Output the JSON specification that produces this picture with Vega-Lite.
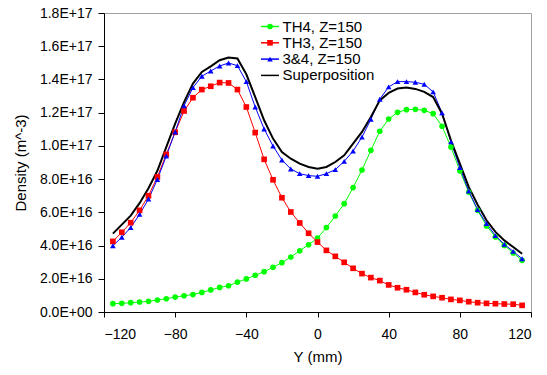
{
  "$schema": "https://vega.github.io/schema/vega-lite/v6.json",
  "width": 427,
  "height": 299,
  "autosize": {"type": "none"},
  "padding": {"left": 104, "top": 13, "right": 16, "bottom": 63},
  "background": "white",
  "config": {
    "font": "Liberation Sans",
    "view": {"stroke": "#a0a0a0", "strokeWidth": 1},
    "axis": {
      "grid": false,
      "domainColor": "black",
      "tickColor": "black",
      "labelColor": "black",
      "titleColor": "black",
      "labelFont": "Liberation Sans",
      "titleFont": "Liberation Sans",
      "labelFontSize": 14,
      "titleFontSize": 15,
      "titleFontWeight": "normal",
      "domainWidth": 1,
      "tickWidth": 1
    }
  },
  "data": {
    "values": [
      {"series": "TH4, Z=150", "y_mm": -115, "density": 0.50e16},
      {"series": "TH4, Z=150", "y_mm": -110, "density": 0.52e16},
      {"series": "TH4, Z=150", "y_mm": -105, "density": 0.56e16},
      {"series": "TH4, Z=150", "y_mm": -100, "density": 0.60e16},
      {"series": "TH4, Z=150", "y_mm": -95, "density": 0.64e16},
      {"series": "TH4, Z=150", "y_mm": -90, "density": 0.72e16},
      {"series": "TH4, Z=150", "y_mm": -85, "density": 0.80e16},
      {"series": "TH4, Z=150", "y_mm": -80, "density": 0.90e16},
      {"series": "TH4, Z=150", "y_mm": -75, "density": 0.98e16},
      {"series": "TH4, Z=150", "y_mm": -70, "density": 1.05e16},
      {"series": "TH4, Z=150", "y_mm": -65, "density": 1.18e16},
      {"series": "TH4, Z=150", "y_mm": -60, "density": 1.33e16},
      {"series": "TH4, Z=150", "y_mm": -55, "density": 1.48e16},
      {"series": "TH4, Z=150", "y_mm": -50, "density": 1.58e16},
      {"series": "TH4, Z=150", "y_mm": -45, "density": 1.80e16},
      {"series": "TH4, Z=150", "y_mm": -40, "density": 1.99e16},
      {"series": "TH4, Z=150", "y_mm": -35, "density": 2.21e16},
      {"series": "TH4, Z=150", "y_mm": -30, "density": 2.43e16},
      {"series": "TH4, Z=150", "y_mm": -25, "density": 2.69e16},
      {"series": "TH4, Z=150", "y_mm": -20, "density": 2.97e16},
      {"series": "TH4, Z=150", "y_mm": -15, "density": 3.31e16},
      {"series": "TH4, Z=150", "y_mm": -10, "density": 3.69e16},
      {"series": "TH4, Z=150", "y_mm": -5, "density": 4.05e16},
      {"series": "TH4, Z=150", "y_mm": 0, "density": 4.45e16},
      {"series": "TH4, Z=150", "y_mm": 5, "density": 5.08e16},
      {"series": "TH4, Z=150", "y_mm": 10, "density": 5.78e16},
      {"series": "TH4, Z=150", "y_mm": 15, "density": 6.52e16},
      {"series": "TH4, Z=150", "y_mm": 20, "density": 7.49e16},
      {"series": "TH4, Z=150", "y_mm": 25, "density": 8.55e16},
      {"series": "TH4, Z=150", "y_mm": 30, "density": 9.73e16},
      {"series": "TH4, Z=150", "y_mm": 35, "density": 10.88e16},
      {"series": "TH4, Z=150", "y_mm": 40, "density": 11.62e16},
      {"series": "TH4, Z=150", "y_mm": 45, "density": 12.02e16},
      {"series": "TH4, Z=150", "y_mm": 50, "density": 12.18e16},
      {"series": "TH4, Z=150", "y_mm": 55, "density": 12.20e16},
      {"series": "TH4, Z=150", "y_mm": 60, "density": 12.14e16},
      {"series": "TH4, Z=150", "y_mm": 65, "density": 11.94e16},
      {"series": "TH4, Z=150", "y_mm": 70, "density": 11.18e16},
      {"series": "TH4, Z=150", "y_mm": 75, "density": 9.93e16},
      {"series": "TH4, Z=150", "y_mm": 80, "density": 8.50e16},
      {"series": "TH4, Z=150", "y_mm": 85, "density": 7.22e16},
      {"series": "TH4, Z=150", "y_mm": 90, "density": 6.12e16},
      {"series": "TH4, Z=150", "y_mm": 95, "density": 5.18e16},
      {"series": "TH4, Z=150", "y_mm": 100, "density": 4.52e16},
      {"series": "TH4, Z=150", "y_mm": 105, "density": 4.01e16},
      {"series": "TH4, Z=150", "y_mm": 110, "density": 3.55e16},
      {"series": "TH4, Z=150", "y_mm": 115, "density": 3.11e16},

      {"series": "TH3, Z=150", "y_mm": -115, "density": 4.25e16},
      {"series": "TH3, Z=150", "y_mm": -110, "density": 4.80e16},
      {"series": "TH3, Z=150", "y_mm": -105, "density": 5.38e16},
      {"series": "TH3, Z=150", "y_mm": -100, "density": 6.12e16},
      {"series": "TH3, Z=150", "y_mm": -95, "density": 7.00e16},
      {"series": "TH3, Z=150", "y_mm": -90, "density": 8.13e16},
      {"series": "TH3, Z=150", "y_mm": -85, "density": 9.49e16},
      {"series": "TH3, Z=150", "y_mm": -80, "density": 10.82e16},
      {"series": "TH3, Z=150", "y_mm": -75, "density": 12.10e16},
      {"series": "TH3, Z=150", "y_mm": -70, "density": 12.90e16},
      {"series": "TH3, Z=150", "y_mm": -65, "density": 13.39e16},
      {"series": "TH3, Z=150", "y_mm": -60, "density": 13.59e16},
      {"series": "TH3, Z=150", "y_mm": -55, "density": 13.81e16},
      {"series": "TH3, Z=150", "y_mm": -50, "density": 13.79e16},
      {"series": "TH3, Z=150", "y_mm": -45, "density": 13.39e16},
      {"series": "TH3, Z=150", "y_mm": -40, "density": 12.34e16},
      {"series": "TH3, Z=150", "y_mm": -35, "density": 10.80e16},
      {"series": "TH3, Z=150", "y_mm": -30, "density": 9.19e16},
      {"series": "TH3, Z=150", "y_mm": -25, "density": 7.96e16},
      {"series": "TH3, Z=150", "y_mm": -20, "density": 6.88e16},
      {"series": "TH3, Z=150", "y_mm": -15, "density": 6.02e16},
      {"series": "TH3, Z=150", "y_mm": -10, "density": 5.36e16},
      {"series": "TH3, Z=150", "y_mm": -5, "density": 4.74e16},
      {"series": "TH3, Z=150", "y_mm": 0, "density": 4.21e16},
      {"series": "TH3, Z=150", "y_mm": 5, "density": 3.71e16},
      {"series": "TH3, Z=150", "y_mm": 10, "density": 3.35e16},
      {"series": "TH3, Z=150", "y_mm": 15, "density": 2.99e16},
      {"series": "TH3, Z=150", "y_mm": 20, "density": 2.63e16},
      {"series": "TH3, Z=150", "y_mm": 25, "density": 2.31e16},
      {"series": "TH3, Z=150", "y_mm": 30, "density": 2.07e16},
      {"series": "TH3, Z=150", "y_mm": 35, "density": 1.89e16},
      {"series": "TH3, Z=150", "y_mm": 40, "density": 1.63e16},
      {"series": "TH3, Z=150", "y_mm": 45, "density": 1.46e16},
      {"series": "TH3, Z=150", "y_mm": 50, "density": 1.34e16},
      {"series": "TH3, Z=150", "y_mm": 55, "density": 1.18e16},
      {"series": "TH3, Z=150", "y_mm": 60, "density": 1.04e16},
      {"series": "TH3, Z=150", "y_mm": 65, "density": 0.94e16},
      {"series": "TH3, Z=150", "y_mm": 70, "density": 0.86e16},
      {"series": "TH3, Z=150", "y_mm": 75, "density": 0.76e16},
      {"series": "TH3, Z=150", "y_mm": 80, "density": 0.70e16},
      {"series": "TH3, Z=150", "y_mm": 85, "density": 0.62e16},
      {"series": "TH3, Z=150", "y_mm": 90, "density": 0.56e16},
      {"series": "TH3, Z=150", "y_mm": 95, "density": 0.52e16},
      {"series": "TH3, Z=150", "y_mm": 100, "density": 0.50e16},
      {"series": "TH3, Z=150", "y_mm": 105, "density": 0.48e16},
      {"series": "TH3, Z=150", "y_mm": 110, "density": 0.47e16},
      {"series": "TH3, Z=150", "y_mm": 115, "density": 0.40e16},

      {"series": "3&4, Z=150", "y_mm": -115, "density": 3.99e16},
      {"series": "3&4, Z=150", "y_mm": -110, "density": 4.50e16},
      {"series": "3&4, Z=150", "y_mm": -105, "density": 5.08e16},
      {"series": "3&4, Z=150", "y_mm": -100, "density": 5.88e16},
      {"series": "3&4, Z=150", "y_mm": -95, "density": 6.80e16},
      {"series": "3&4, Z=150", "y_mm": -90, "density": 7.98e16},
      {"series": "3&4, Z=150", "y_mm": -85, "density": 9.39e16},
      {"series": "3&4, Z=150", "y_mm": -80, "density": 10.84e16},
      {"series": "3&4, Z=150", "y_mm": -75, "density": 12.42e16},
      {"series": "3&4, Z=150", "y_mm": -70, "density": 13.51e16},
      {"series": "3&4, Z=150", "y_mm": -65, "density": 14.19e16},
      {"series": "3&4, Z=150", "y_mm": -60, "density": 14.51e16},
      {"series": "3&4, Z=150", "y_mm": -55, "density": 14.81e16},
      {"series": "3&4, Z=150", "y_mm": -50, "density": 14.99e16},
      {"series": "3&4, Z=150", "y_mm": -45, "density": 14.83e16},
      {"series": "3&4, Z=150", "y_mm": -40, "density": 13.87e16},
      {"series": "3&4, Z=150", "y_mm": -35, "density": 12.34e16},
      {"series": "3&4, Z=150", "y_mm": -30, "density": 11.02e16},
      {"series": "3&4, Z=150", "y_mm": -25, "density": 9.99e16},
      {"series": "3&4, Z=150", "y_mm": -20, "density": 9.15e16},
      {"series": "3&4, Z=150", "y_mm": -15, "density": 8.61e16},
      {"series": "3&4, Z=150", "y_mm": -10, "density": 8.33e16},
      {"series": "3&4, Z=150", "y_mm": -5, "density": 8.21e16},
      {"series": "3&4, Z=150", "y_mm": 0, "density": 8.17e16},
      {"series": "3&4, Z=150", "y_mm": 5, "density": 8.33e16},
      {"series": "3&4, Z=150", "y_mm": 10, "density": 8.57e16},
      {"series": "3&4, Z=150", "y_mm": 15, "density": 9.07e16},
      {"series": "3&4, Z=150", "y_mm": 20, "density": 9.69e16},
      {"series": "3&4, Z=150", "y_mm": 25, "density": 10.53e16},
      {"series": "3&4, Z=150", "y_mm": 30, "density": 11.60e16},
      {"series": "3&4, Z=150", "y_mm": 35, "density": 12.81e16},
      {"series": "3&4, Z=150", "y_mm": 40, "density": 13.55e16},
      {"series": "3&4, Z=150", "y_mm": 45, "density": 13.87e16},
      {"series": "3&4, Z=150", "y_mm": 50, "density": 13.87e16},
      {"series": "3&4, Z=150", "y_mm": 55, "density": 13.83e16},
      {"series": "3&4, Z=150", "y_mm": 60, "density": 13.71e16},
      {"series": "3&4, Z=150", "y_mm": 65, "density": 13.25e16},
      {"series": "3&4, Z=150", "y_mm": 70, "density": 11.99e16},
      {"series": "3&4, Z=150", "y_mm": 75, "density": 10.24e16},
      {"series": "3&4, Z=150", "y_mm": 80, "density": 8.69e16},
      {"series": "3&4, Z=150", "y_mm": 85, "density": 7.28e16},
      {"series": "3&4, Z=150", "y_mm": 90, "density": 6.16e16},
      {"series": "3&4, Z=150", "y_mm": 95, "density": 5.32e16},
      {"series": "3&4, Z=150", "y_mm": 100, "density": 4.60e16},
      {"series": "3&4, Z=150", "y_mm": 105, "density": 4.07e16},
      {"series": "3&4, Z=150", "y_mm": 110, "density": 3.65e16},
      {"series": "3&4, Z=150", "y_mm": 115, "density": 3.21e16},

      {"series": "Superposition", "y_mm": -115, "density": 4.72e16},
      {"series": "Superposition", "y_mm": -110, "density": 5.26e16},
      {"series": "Superposition", "y_mm": -105, "density": 5.80e16},
      {"series": "Superposition", "y_mm": -100, "density": 6.55e16},
      {"series": "Superposition", "y_mm": -95, "density": 7.45e16},
      {"series": "Superposition", "y_mm": -90, "density": 8.50e16},
      {"series": "Superposition", "y_mm": -85, "density": 9.93e16},
      {"series": "Superposition", "y_mm": -80, "density": 11.34e16},
      {"series": "Superposition", "y_mm": -75, "density": 12.64e16},
      {"series": "Superposition", "y_mm": -70, "density": 13.75e16},
      {"series": "Superposition", "y_mm": -65, "density": 14.45e16},
      {"series": "Superposition", "y_mm": -60, "density": 14.79e16},
      {"series": "Superposition", "y_mm": -55, "density": 15.16e16},
      {"series": "Superposition", "y_mm": -50, "density": 15.32e16},
      {"series": "Superposition", "y_mm": -45, "density": 15.26e16},
      {"series": "Superposition", "y_mm": -40, "density": 14.31e16},
      {"series": "Superposition", "y_mm": -35, "density": 12.94e16},
      {"series": "Superposition", "y_mm": -30, "density": 11.54e16},
      {"series": "Superposition", "y_mm": -25, "density": 10.44e16},
      {"series": "Superposition", "y_mm": -20, "density": 9.63e16},
      {"series": "Superposition", "y_mm": -15, "density": 9.23e16},
      {"series": "Superposition", "y_mm": -10, "density": 8.93e16},
      {"series": "Superposition", "y_mm": -5, "density": 8.73e16},
      {"series": "Superposition", "y_mm": 0, "density": 8.63e16},
      {"series": "Superposition", "y_mm": 5, "density": 8.73e16},
      {"series": "Superposition", "y_mm": 10, "density": 9.03e16},
      {"series": "Superposition", "y_mm": 15, "density": 9.43e16},
      {"series": "Superposition", "y_mm": 20, "density": 10.14e16},
      {"series": "Superposition", "y_mm": 25, "density": 10.84e16},
      {"series": "Superposition", "y_mm": 30, "density": 11.74e16},
      {"series": "Superposition", "y_mm": 35, "density": 12.74e16},
      {"series": "Superposition", "y_mm": 40, "density": 13.19e16},
      {"series": "Superposition", "y_mm": 45, "density": 13.45e16},
      {"series": "Superposition", "y_mm": 50, "density": 13.51e16},
      {"series": "Superposition", "y_mm": 55, "density": 13.43e16},
      {"series": "Superposition", "y_mm": 60, "density": 13.25e16},
      {"series": "Superposition", "y_mm": 65, "density": 12.94e16},
      {"series": "Superposition", "y_mm": 70, "density": 11.94e16},
      {"series": "Superposition", "y_mm": 75, "density": 10.34e16},
      {"series": "Superposition", "y_mm": 80, "density": 8.93e16},
      {"series": "Superposition", "y_mm": 85, "density": 7.53e16},
      {"series": "Superposition", "y_mm": 90, "density": 6.46e16},
      {"series": "Superposition", "y_mm": 95, "density": 5.52e16},
      {"series": "Superposition", "y_mm": 100, "density": 4.82e16},
      {"series": "Superposition", "y_mm": 105, "density": 4.31e16},
      {"series": "Superposition", "y_mm": 110, "density": 3.91e16},
      {"series": "Superposition", "y_mm": 115, "density": 3.51e16}
    ]
  },
  "encoding": {
    "x": {
      "field": "y_mm",
      "type": "quantitative",
      "scale": {"domain": [-120, 120], "nice": false, "zero": false},
      "axis": {
        "values": [-120, -80, -40, 0, 40, 80, 120],
        "title": "Y (mm)",
        "tickSize": 5,
        "labelPadding": 10,
        "titlePadding": 8
      }
    },
    "y": {
      "field": "density",
      "type": "quantitative",
      "scale": {"domain": [0, 1.8e17], "nice": false},
      "axis": {
        "values": [0, 2e16, 4e16, 6e16, 8e16, 1e17, 1.2e17, 1.4e17, 1.6e17, 1.8e17],
        "labelExpr": "datum.value === 0 ? '0.0E+00' : replace(format(datum.value, '.1e'), 'e', 'E')",
        "title": "Density (m^-3)",
        "tickSize": 6,
        "labelPadding": 6,
        "titlePadding": 11
      }
    },
    "stroke": {
      "field": "series",
      "type": "nominal",
      "sort": ["TH4, Z=150", "TH3, Z=150", "3&4, Z=150", "Superposition"],
      "scale": {"range": ["#00ff00", "#ff0000", "#0000ff", "#000000"]},
      "legend": {
        "orient": "none",
        "legendX": 158.5,
        "legendY": 6,
        "title": null,
        "padding": 0,
        "rowPadding": 0.3,
        "symbolType": "M-3,0H3",
        "symbolSize": 36,
        "symbolStrokeWidth": 1.5,
        "labelFontSize": 15,
        "labelFont": "Liberation Sans",
        "labelColor": "black",
        "labelOffset": 5
      }
    }
  },
  "layer": [
    {
      "transform": [{"filter": "datum.series !== 'Superposition'"}],
      "mark": {"type": "line", "strokeWidth": 1}
    },
    {
      "transform": [{"filter": "datum.series === 'Superposition'"}],
      "mark": {"type": "line", "strokeWidth": 2}
    },
    {
      "transform": [{"filter": "datum.series !== 'Superposition'"}],
      "mark": {"type": "point", "filled": true, "strokeWidth": 0, "opacity": 1, "size": 32},
      "encoding": {
        "stroke": null,
        "fill": {
          "field": "series",
          "type": "nominal",
          "scale": {
            "domain": ["TH4, Z=150", "TH3, Z=150", "3&4, Z=150", "Superposition"],
            "range": ["#00ff00", "#ff0000", "#0000ff", "#000000"]
          },
          "legend": {
            "orient": "none",
            "legendX": 158.5,
            "legendY": 6,
            "title": null,
            "padding": 0,
            "rowPadding": 0.3,
            "symbolSize": 32,
            "symbolStrokeWidth": 0,
            "labelFontSize": 15,
            "labelFont": "Liberation Sans",
            "labelOpacity": 0,
            "labelOffset": 5
          }
        },
        "shape": {
          "field": "series",
          "type": "nominal",
          "scale": {
            "domain": ["TH4, Z=150", "TH3, Z=150", "3&4, Z=150", "Superposition"],
            "range": ["circle", "square", "triangle-up", "M0,0"]
          },
          "legend": {
            "orient": "none",
            "legendX": 158.5,
            "legendY": 6,
            "title": null,
            "padding": 0,
            "rowPadding": 0.3,
            "symbolSize": 32,
            "symbolStrokeWidth": 0,
            "labelFontSize": 15,
            "labelFont": "Liberation Sans",
            "labelOpacity": 0,
            "labelOffset": 5
          }
        }
      }
    }
  ]
}
